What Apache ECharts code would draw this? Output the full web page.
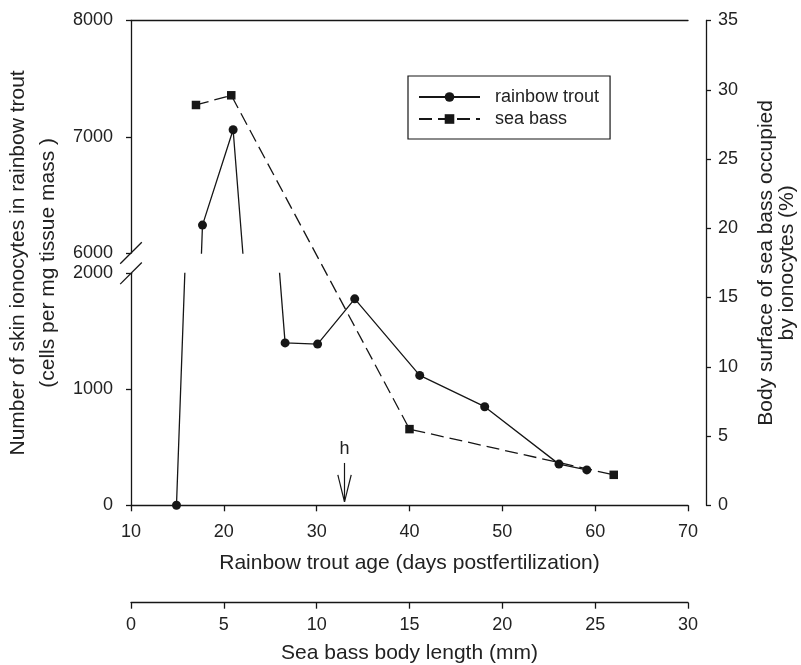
<!DOCTYPE html>
<html>
<head>
<meta charset="utf-8">
<script src="https://cdn.jsdelivr.net/npm/echarts@6/dist/echarts.min.js"></script>
<style>
  html, body { margin: 0; padding: 0; background: #fff; }
  #chart { width: 801px; height: 665px; }
</style>
</head>
<body>
<div id="chart"></div>
<script>
// rainbow trout: age (days postfertilization) vs ionocytes per mg tissue mass
const troutAge = [14.9, 17.7, 21.0, 26.6, 30.1, 34.1, 41.1, 48.1, 56.1, 59.1];
const troutCells = [0, 6240, 7060, 1400, 1390, 1780, 1120, 850, 355, 305];
// sea bass: body length (mm) vs % body surface occupied
const bassLength = [3.5, 5.4, 15.0, 26.0];
const bassSurface = [28.9, 29.6, 5.5, 2.2];
// hatching marker
const hatchAge = 33;

const ink = '#161616';
const font = {fontFamily: 'Liberation Sans, Arial, sans-serif', fontSize: 18, color: '#222'};
const titleFont = {...font, fontSize: 21};
const axLine = {show: true, onZero: false, lineStyle: {color: ink, width: 1.3}};
const tick = (len) => ({show: true, length: len, lineStyle: {color: ink, width: 1.3}});
const plain = (v) => String(v);

const chart = echarts.init(document.getElementById('chart'));

const troutPoints = troutAge.map((a, i) => [a, troutCells[i]]);
const bassPoints = bassLength.map((l, i) => [l, bassSurface[i]]);

const troutBase = {
    name: 'rainbow trout',
    type: 'line',
    data: troutPoints,
    symbol: 'circle',
    symbolSize: 9,
    showSymbol: true,
    clip: true,
    lineStyle: {color: ink, width: 1.3},
    itemStyle: {color: ink},
    animation: false
};

const option = {
    animation: false,
    grid: [
        {left: 131, right: 113, top: 20.5, height: 232.5, outerBoundsMode: 'none', containLabel: false},
        {left: 131, right: 113, top: 273.3, height: 232, outerBoundsMode: 'none', containLabel: false},
        {left: 131, right: 113, top: 20.5, height: 484.8, outerBoundsMode: 'none', containLabel: false}
    ],
    xAxis: [
        {
            gridIndex: 0, type: 'value', position: 'top', min: 10, max: 70,
            axisLine: axLine, axisTick: {show: false}, axisLabel: {show: false}, splitLine: {show: false}
        },
        {
            gridIndex: 1, type: 'value', position: 'bottom', min: 10, max: 70, interval: 10,
            axisLine: axLine, axisTick: tick(6), splitLine: {show: false},
            axisLabel: {...font, margin: 18, formatter: plain},
            name: 'Rainbow trout age (days postfertilization)',
            nameLocation: 'middle', nameGap: 47, nameTextStyle: titleFont
        },
        {
            gridIndex: 2, type: 'value', position: 'bottom', offset: 97.4, min: 0, max: 30, interval: 5,
            axisLine: axLine, axisTick: tick(6), splitLine: {show: false},
            axisLabel: {...font, margin: 13, formatter: plain},
            name: 'Sea bass body length (mm)',
            nameLocation: 'middle', nameGap: 40, nameTextStyle: titleFont
        }
    ],
    yAxis: [
        {
            gridIndex: 0, type: 'value', min: 6000, max: 8000, interval: 1000,
            axisLine: axLine, axisTick: tick(5), splitLine: {show: false},
            axisLabel: {...font, margin: 18, formatter: plain}
        },
        {
            gridIndex: 1, type: 'value', min: 0, max: 2000, interval: 1000,
            axisLine: axLine, axisTick: tick(5), splitLine: {show: false},
            axisLabel: {...font, margin: 18, formatter: plain}
        },
        {
            gridIndex: 2, type: 'value', position: 'right', offset: 18, min: 0, max: 35, interval: 5,
            axisLine: axLine, axisTick: tick(5), splitLine: {show: false},
            axisLabel: {...font, margin: 12, formatter: plain},
            name: 'Body surface of sea bass occupied\nby ionocytes (%)',
            nameLocation: 'middle', nameGap: 50,
            nameTextStyle: {...titleFont, lineHeight: 21}
        },
        {
            // carries only the left title, centred on the whole plot height
            gridIndex: 2, type: 'value', position: 'left', min: 0, max: 1,
            axisLine: {show: false, onZero: false}, axisTick: {show: false}, axisLabel: {show: false}, splitLine: {show: false},
            name: 'Number of skin ionocytes in rainbow trout\n(cells per mg tissue mass )',
            nameLocation: 'middle', nameGap: 68,
            nameTextStyle: {...titleFont, lineHeight: 30}
        }
    ],
    legend: {
        orient: 'vertical', left: 408, top: 76,
        data: ['rainbow trout', 'sea bass'],
        itemWidth: 61, itemHeight: 12, itemGap: 4,
        padding: [12, 11, 11, 10],
        borderColor: ink, borderWidth: 1.2, borderRadius: 0,
        selectedMode: false,
        textStyle: {...font, padding: [0, 0, 0, 10], lineHeight: 18}
    },
    series: [
        {...troutBase, xAxisIndex: 0, yAxisIndex: 0},
        {
            ...troutBase, xAxisIndex: 1, yAxisIndex: 1,
            markLine: {
                silent: true, symbol: 'none', animation: false,
                lineStyle: {color: ink, width: 1.2, type: 'solid'},
                label: {show: false},
                data: [
                    [{coord: [hatchAge, 365], label: {show: true, formatter: 'h', position: 'start', distance: 5, ...font}},
                     {coord: [hatchAge, 30]}],
                    [{coord: [hatchAge - 0.72, 262]}, {coord: [hatchAge, 30]}],
                    [{coord: [hatchAge + 0.72, 262]}, {coord: [hatchAge, 30]}]
                ]
            }
        },
        {
            name: 'sea bass', type: 'line', xAxisIndex: 2, yAxisIndex: 2,
            data: bassPoints,
            symbol: 'rect', symbolSize: 8.5, showSymbol: true,
            lineStyle: {color: ink, width: 1.3, type: [13, 6]},
            itemStyle: {color: ink},
            animation: false
        }
    ]
};

chart.setOption(option);

// axis break marks at the 6000 / 2000 ends of the left axis
const bx = chart.convertToPixel({xAxisIndex: 1}, 10);
const breakYs = [chart.convertToPixel({yAxisIndex: 0}, 6000), chart.convertToPixel({yAxisIndex: 1}, 2000)];
chart.setOption({
    graphic: breakYs.map(y => ({
        type: 'line',
        shape: {x1: bx - 10.8, y1: y + 10.8, x2: bx + 10.8, y2: y - 10.8},
        style: {stroke: ink, lineWidth: 1.3}
    }))
});
</script>
</body>
</html>
